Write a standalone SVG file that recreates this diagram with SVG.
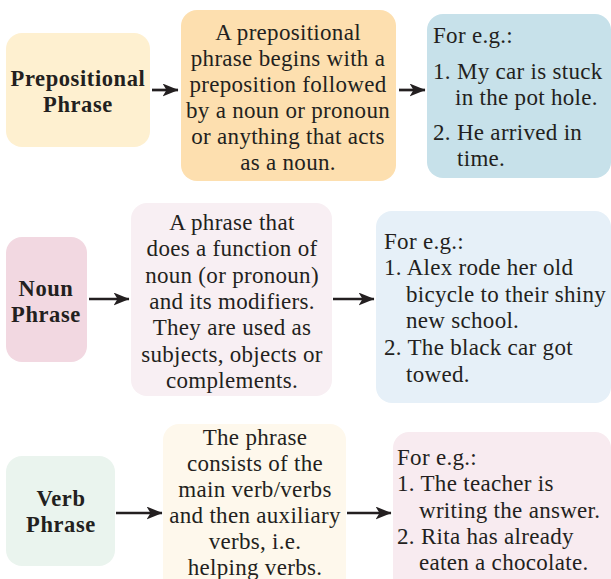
<svg xmlns="http://www.w3.org/2000/svg" width="611" height="579" viewBox="0 0 611 579">
<defs>
<marker id="ah" viewBox="0 0 16 13" refX="15.5" refY="6.5" markerWidth="16" markerHeight="13" markerUnits="userSpaceOnUse" orient="auto">
<path d="M0,0 L16,6.5 L0,13 L4,6.5 Z" fill="#231F20"/>
</marker>
</defs>
<style>
text{font-family:"Liberation Serif","Times New Roman",serif;fill:#231F20;font-size:23px;letter-spacing:0.3px}
.b{font-weight:bold;font-size:22.5px;letter-spacing:0.6px}
.c{text-anchor:middle}
.ln{stroke:#231F20;stroke-width:2.7;fill:none}
</style>
<rect width="611" height="579" fill="#ffffff"/>
<g id="prep-title">
<rect x="6" y="33" width="144" height="114" rx="16" fill="#FEF0D0"/>
<text class="b c" x="78" y="86">Prepositional</text>
<text class="b c" x="78" y="112">Phrase</text>
</g>
<g id="prep-def">
<rect x="181" y="10" width="215" height="171" rx="16" fill="#FDDFAF"/>
<text class="c" x="288" y="40">A prepositional</text>
<text class="c" x="288" y="66">phrase begins with a</text>
<text class="c" x="288" y="92">preposition followed</text>
<text class="c" x="288" y="118">by a noun or pronoun</text>
<text class="c" x="288" y="144">or anything that acts</text>
<text class="c" x="288" y="170">as a noun.</text>
</g>
<g id="prep-eg">
<rect x="427" y="14" width="184" height="164" rx="16" fill="#C7E1EA"/>
<text x="433" y="43">For e.g.:</text>
<text x="433" y="79">1. My car is stuck</text>
<text x="455" y="105">in the pot hole.</text>
<text x="433" y="140">2. He arrived in</text>
<text x="457" y="166">time.</text>
</g>
<g id="noun-title">
<rect x="6" y="237" width="81" height="125" rx="16" fill="#F2D8E1"/>
<text class="b c" x="46" y="296">Noun</text>
<text class="b c" x="46" y="322">Phrase</text>
</g>
<g id="noun-def">
<rect x="131" y="203" width="201" height="193" rx="16" fill="#F8EFF3"/>
<text class="c" x="232" y="230">A phrase that</text>
<text class="c" x="232" y="256">does a function of</text>
<text class="c" x="232" y="283">noun (or pronoun)</text>
<text class="c" x="232" y="309">and its modifiers.</text>
<text class="c" x="232" y="335">They are used as</text>
<text class="c" x="232" y="362">subjects, objects or</text>
<text class="c" x="232" y="388">complements.</text>
</g>
<g id="noun-eg">
<rect x="376" y="211" width="235" height="192" rx="16" fill="#E6F0F8"/>
<text x="384" y="249">For e.g.:</text>
<text x="384" y="275">1. Alex rode her old</text>
<text x="406" y="302">bicycle to their shiny</text>
<text x="406" y="328">new school.</text>
<text x="384" y="355">2. The black car got</text>
<text x="406" y="382">towed.</text>
</g>
<g id="verb-title">
<rect x="6" y="456" width="109" height="110" rx="16" fill="#EAF4EE"/>
<text class="b c" x="61" y="506">Verb</text>
<text class="b c" x="61" y="532">Phrase</text>
</g>
<g id="verb-def">
<rect x="163" y="424" width="183" height="170" rx="16" fill="#FEF8EC"/>
<text class="c" x="255" y="445">The phrase</text>
<text class="c" x="255" y="471">consists of the</text>
<text class="c" x="255" y="497">main verb/verbs</text>
<text class="c" x="255" y="523">and then auxiliary</text>
<text class="c" x="255" y="549">verbs, i.e.</text>
<text class="c" x="255" y="575">helping verbs.</text>
</g>
<g id="verb-eg">
<rect x="393" y="432" width="218" height="162" rx="16" fill="#F8EBF0"/>
<text x="397" y="465">For e.g.:</text>
<text x="397" y="491">1. The teacher is</text>
<text x="419" y="518">writing the answer.</text>
<text x="397" y="544">2. Rita has already</text>
<text x="419" y="570">eaten a chocolate.</text>
</g>
<g id="connectors">
<line class="ln" x1="152" y1="90" x2="178" y2="90" marker-end="url(#ah)"/>
<line class="ln" x1="399" y1="90" x2="425" y2="90" marker-end="url(#ah)"/>
<line class="ln" x1="89" y1="299" x2="129" y2="299" marker-end="url(#ah)"/>
<line class="ln" x1="333" y1="299" x2="374" y2="299" marker-end="url(#ah)"/>
<line class="ln" x1="116" y1="513" x2="162" y2="513" marker-end="url(#ah)"/>
<line class="ln" x1="347" y1="513" x2="391" y2="513" marker-end="url(#ah)"/>
</g>
</svg>
